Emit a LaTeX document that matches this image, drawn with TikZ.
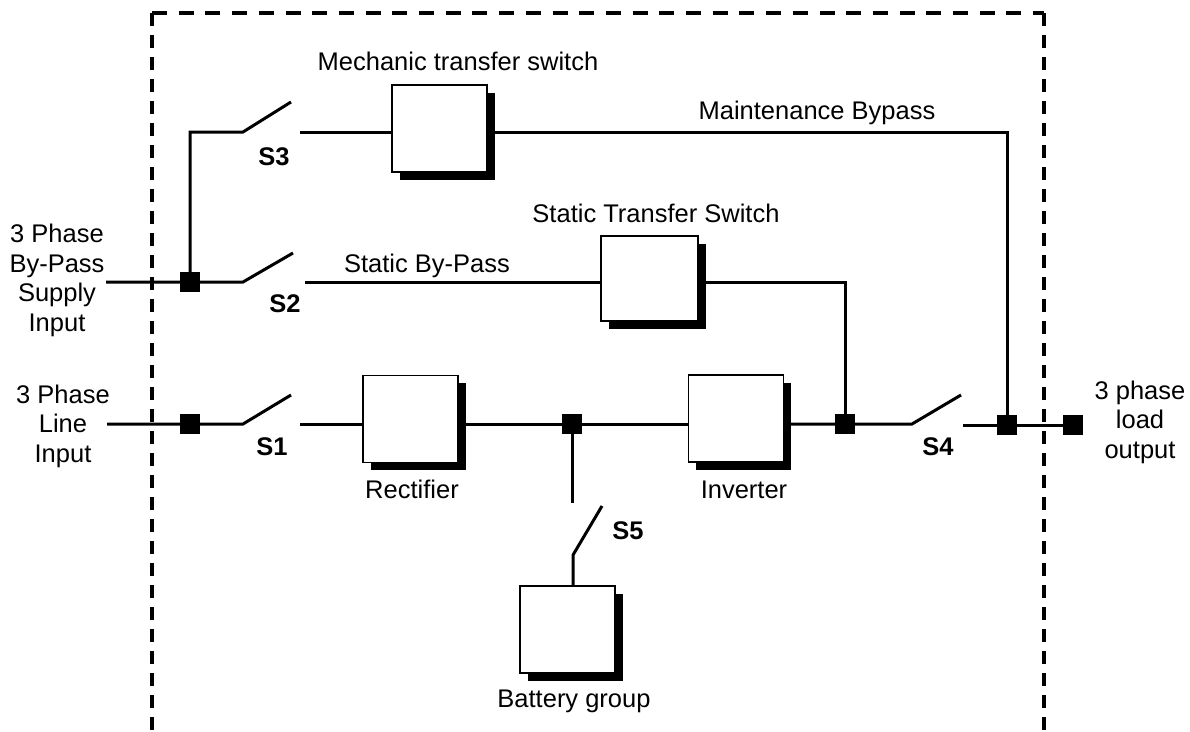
\documentclass[tikz,border=0pt]{standalone}
\usepackage{fontspec}
\setmainfont{Liberation Sans}
\usetikzlibrary{shadows}
\begin{document}
\begin{tikzpicture}[x=1pt,y=-1pt,
  every node/.style={font=\fontsize{25.5}{29.5}\selectfont},
  wire/.style={line width=3pt},
  junc/.style={fill=black,minimum size=20pt,inner sep=0pt,draw=none},
  unit/.style={draw,line width=1.3pt,fill=white,minimum width=95pt,minimum height=87pt,inner sep=0pt,
    drop shadow={shadow xshift=7.5pt,shadow yshift=-7.5pt,fill=black,opacity=1}},
  lbl/.style={anchor=base,inner sep=0pt},
  swl/.style={anchor=base,inner sep=0pt,font=\fontsize{25.5}{29.5}\selectfont\bfseries},
  hframe/.style={line width=4pt,dash pattern=on 15pt off 11.7pt},
  vframe/.style={line width=4pt,dash pattern=on 13pt off 9pt}
]
\useasboundingbox (0,0) rectangle (1190,731);
% frame
\coordinate (fl) at (152,13);
\coordinate (fr) at (1044,13);
\coordinate (flb) at (152,731);
\coordinate (frb) at (1044,731);
\draw[hframe] (fl) -- (fr);
\draw[vframe] (fl) -- (flb);
\draw[vframe] (fr) -- (frb);

% units
\node[unit] (mech) at (439.5,128.5) {};
\node[unit,minimum width=97pt,minimum height=85pt] (sts) at (649.5,278.5) {};
\node[unit] (rect) at (410.5,419) {};
\node[unit] (inv) at (736,418.5) {};
\node[unit] (bat) at (567.5,629.5) {};

% junctions
\node[junc] (jb) at (190,282) {};
\node[junc] (jl) at (190,424) {};
\node[junc] (jd) at (572,424) {};
\node[junc] (ji) at (845,424) {};
\node[junc] (jo) at (1007,425) {};
\node[junc] (jt) at (1073,425) {};

% coordinates
\coordinate (inB) at (106,282);
\coordinate (s2p) at (243,282);
\coordinate (s2b) at (293,253);
\coordinate (s2c) at (305,282);
\coordinate (s3k) at (190,132);
\coordinate (s3p) at (243,132);
\coordinate (s3b) at (291,102);
\coordinate (s3c) at (300,132);
\coordinate (mbk) at (1007,132);
\coordinate (stk) at (845,282);
\coordinate (inL) at (107,424);
\coordinate (s1p) at (243,424);
\coordinate (s1b) at (291,395);
\coordinate (s1c) at (300,424);
\coordinate (s4p) at (912,424);
\coordinate (s4b) at (961,395);
\coordinate (s4c) at (963,425);
\coordinate (s5t) at (572,503);
\coordinate (s5p) at (573,555);
\coordinate (s5b) at (602,506);

% wires
\draw[wire] (inB) -- (jb.center) -- (s2p) -- (s2b);
\draw[wire] (s2c) -- (s2c -| sts.west);
\draw[wire] (sts.east |- s2c) -- (stk) -- (ji.center);
\draw[wire] (jb.center) -- (s3k) -- (s3p) -- (s3b);
\draw[wire] (s3c) -- (s3c -| mech.west);
\draw[wire] (mech.east |- s3c) -- (mbk) -- (jo.center);
\draw[wire] (inL) -- (jl.center) -- (s1p) -- (s1b);
\draw[wire] (s1c) -- (s1c -| rect.west);
\draw[wire] (rect.east |- s1c) -- (jd.center) -- (jd.center -| inv.west);
\draw[wire] (inv.east |- s1c) -- (ji.center) -- (s4p) -- (s4b);
\draw[wire] (s4c) -- (jo.center) -- (jt.center);
\draw[wire] (jd.center) -- (s5t);
\draw[wire] (s5b) -- (s5p) -- (bat.north -| s5p);

% labels
\node[lbl] (lmech) at (458,70) {Mechanic transfer switch};
\node[lbl] (lmb) at (817,119) {Maintenance Bypass};
\node[lbl] (lsts) at (656,222) {Static Transfer Switch};
\node[lbl] (lsbp) at (427,272) {Static By-Pass};
\node[lbl] (lrect) at (412,498) {Rectifier};
\node[lbl] (linv) at (744,498) {Inverter};
\node[lbl] (lbat) at (574,707) {Battery group};
\node[swl] (ls3) at (274,165) {S3};
\node[swl] (ls2) at (285,312) {S2};
\node[swl] (ls1) at (272,455) {S1};
\node[swl] (ls4) at (938,455) {S4};
\node[swl] (ls5) at (628,539) {S5};
\node[lbl,align=center] (lby) at (57,331) {3 Phase\\By-Pass\\Supply\\Input};
\node[lbl,align=center] (lline) at (63,462) {3 Phase\\Line\\Input};
\node[lbl,align=center] (lout) at (1140,458) {3 phase\\load\\output};
\end{tikzpicture}
\end{document}
